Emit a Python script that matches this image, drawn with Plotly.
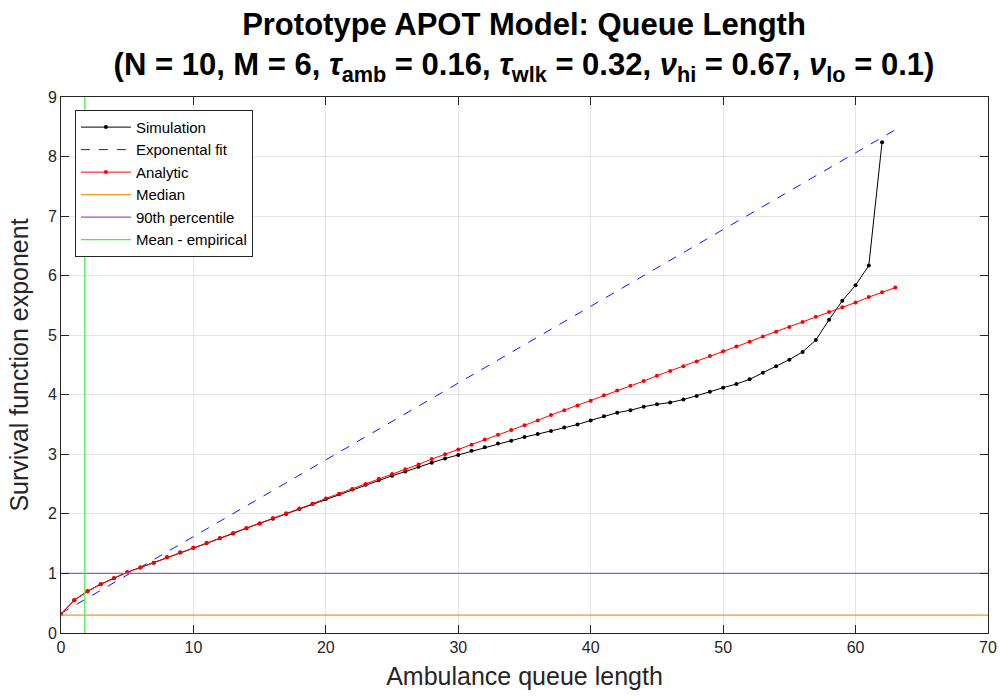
import plotly.graph_objects as go

# ---- data ----
sim_x = list(range(0, 63))
sim_y = [0.32, 0.55, 0.70, 0.82, 0.92, 1.02, 1.10, 1.18, 1.27, 1.35,
         1.43, 1.51, 1.59, 1.67, 1.76, 1.84, 1.92, 2.00, 2.08, 2.17,
         2.25, 2.33, 2.41, 2.49, 2.57, 2.64, 2.71, 2.79, 2.86, 2.93,
         2.99, 3.06, 3.12, 3.18, 3.23, 3.29, 3.34, 3.39, 3.45, 3.50,
         3.57, 3.64, 3.70, 3.74, 3.80, 3.84, 3.87, 3.92, 3.98, 4.05,
         4.12, 4.18, 4.26, 4.37, 4.48, 4.59, 4.72, 4.92, 5.26, 5.58,
         5.84, 6.17, 8.24]

ana_x = list(range(0, 64))
ana_y = [0.32, 0.55, 0.70, 0.82, 0.92, 1.02, 1.10, 1.18, 1.27, 1.35,
         1.43, 1.51, 1.59, 1.68, 1.76, 1.84, 1.93, 2.01, 2.09, 2.17,
         2.26, 2.34, 2.42, 2.50, 2.59, 2.67, 2.75, 2.83, 2.92, 3.00,
         3.08, 3.16, 3.25, 3.33, 3.41, 3.49, 3.57, 3.66, 3.74, 3.82,
         3.90, 3.99, 4.07, 4.15, 4.23, 4.32, 4.40, 4.48, 4.56, 4.65,
         4.73, 4.81, 4.89, 4.98, 5.06, 5.14, 5.22, 5.31, 5.39, 5.47,
         5.55, 5.64, 5.72, 5.80]

fit_x = [0, 63]
fit_y = [0.33, 8.45]

median_x = [0, 70]
median_y = [0.30, 0.30]

p90_x = [0, 70]
p90_y = [1.0, 1.0]

mean_x = [1.8, 1.8]
mean_y = [0, 9]

x_ticks = [0, 10, 20, 30, 40, 50, 60, 70]
y_ticks = [0, 1, 2, 3, 4, 5, 6, 7, 8, 9]

FONT = "Liberation Sans, Arial, Helvetica, sans-serif"
AX = "#262626"

fig = go.Figure()
fig.add_trace(go.Scatter(x=sim_x, y=sim_y, mode="lines+markers", name="Simulation",
                         line=dict(color="black", width=1),
                         marker=dict(color="black", size=4)))
fig.add_trace(go.Scatter(x=fit_x, y=fit_y, mode="lines", name="Exponental fit",
                         line=dict(color="#1010ff", width=1, dash="dash")))
fig.add_trace(go.Scatter(x=ana_x, y=ana_y, mode="lines+markers", name="Analytic",
                         line=dict(color="#ff0000", width=1),
                         marker=dict(color="#ff0000", size=4)))
fig.add_trace(go.Scatter(x=median_x, y=median_y, mode="lines", name="Median",
                         line=dict(color="#f09a28", width=1.3)))
fig.add_trace(go.Scatter(x=p90_x, y=p90_y, mode="lines", name="90th percentile",
                         line=dict(color="#9b55d0", width=1.3)))
fig.add_trace(go.Scatter(x=mean_x, y=mean_y, mode="lines", name="Mean - empirical",
                         line=dict(color="#44ee44", width=1.3)))

axis_common = dict(showline=True, linecolor=AX, linewidth=1, mirror="allticks",
                   ticks="inside", ticklen=8, tickcolor=AX, tickwidth=1,
                   showgrid=True, gridcolor="#e3e3e3", gridwidth=1, zeroline=False,
                   automargin=False,
                   tickfont=dict(family=FONT, size=16, color=AX))

fig.update_layout(
    width=1000, height=696,
    margin=dict(l=61, r=12, t=97, b=63),
    paper_bgcolor="white", plot_bgcolor="white",
    title=dict(
        text=("<b>Prototype APOT Model: Queue Length</b><br>"
              "<b>(N = 10, M = 6, <i>τ</i><sub>amb</sub> = 0.16, <i>τ</i><sub>wlk</sub> = 0.32, "
              "<i>ν</i><sub>hi</sub> = 0.67, <i>ν</i><sub>lo</sub> = 0.1)</b>"),
        x=0.524, xanchor="center", yref="container", y=0.950, yanchor="middle",
        font=dict(family=FONT, size=31, color="black")),
    xaxis=dict(range=[0, 70], tickvals=x_ticks,
               title=dict(text="Ambulance queue length", standoff=12,
                          font=dict(family=FONT, size=25, color=AX)),
               **axis_common),
    yaxis=dict(range=[0, 9], tickvals=y_ticks,
               title=dict(text="Survival function exponent", standoff=12,
                          font=dict(family=FONT, size=25, color=AX)),
               **axis_common),
    legend=dict(x=0.015, y=0.976, xanchor="left", yanchor="top",
                bgcolor="white", bordercolor=AX, borderwidth=1,
                font=dict(family=FONT, size=15, color="black"),
                tracegroupgap=0, itemwidth=50),
    showlegend=True,
)

fig.write_html("out.html")
